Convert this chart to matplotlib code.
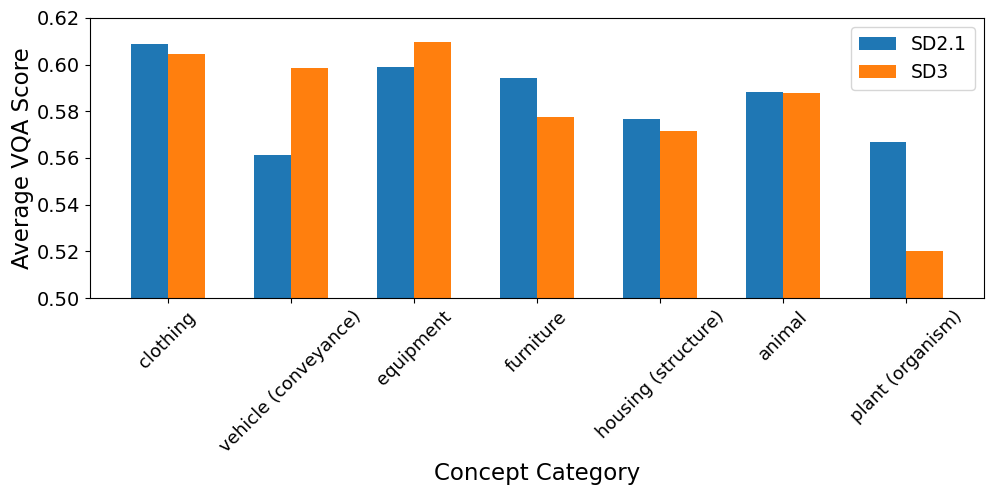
import matplotlib
matplotlib.use("Agg")
import matplotlib.pyplot as plt
import numpy as np

categories = ['clothing', 'vehicle (conveyance)', 'equipment', 'furniture',
              'housing (structure)', 'animal', 'plant (organism)']
sd21 = [0.6090, 0.5613, 0.5991, 0.5943, 0.5768, 0.5881, 0.5669]
sd3 = [0.6044, 0.5986, 0.6095, 0.5777, 0.5716, 0.5880, 0.5201]

x = np.arange(len(categories))
w = 0.3

fig, ax = plt.subplots(figsize=(9.97, 4.98))
ax.bar(x - w/2, sd21, w, label='SD2.1', color='#1f77b4')
ax.bar(x + w/2, sd3, w, label='SD3', color='#ff7f0e')
ax.set_ylim(0.50, 0.62)
ax.set_xticks(x)
ax.set_xticklabels(categories, rotation=45, fontsize=13)
ax.tick_params(axis='y', labelsize=14)
ax.set_xlabel('Concept Category', fontsize=16.5)
ax.set_ylabel('Average VQA Score', fontsize=16.5, labelpad=2)
ax.legend(fontsize=13.5)
fig.subplots_adjust(left=0.0903, right=0.987, top=0.9639, bottom=0.4016)
plt.savefig('out.png', dpi=100)
